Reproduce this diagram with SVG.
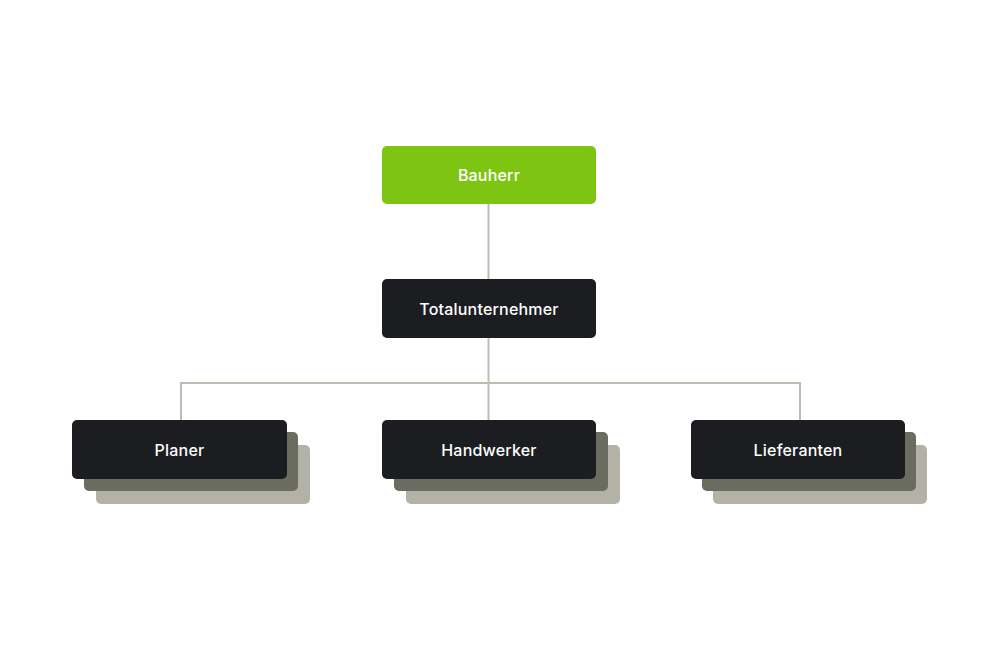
<svg xmlns="http://www.w3.org/2000/svg" width="1000" height="650" viewBox="0 0 1000 650">
<style>
.box{fill:#1c1d20}
.s1{fill:#6b6c60}
.s2{fill:#b4b2a7}
.green{fill:#7dc512}
.lbl{font-family:Inter,"Noto Sans",sans-serif;font-weight:500;font-size:16px;letter-spacing:0.2px;fill:#ffffff;text-anchor:middle;dominant-baseline:central}
.conn{stroke:#bfbcb2;stroke-width:2;fill:none}
</style>
<rect width="1000" height="650" fill="#ffffff"/>
<g id="connectors">
<path class="conn" d="M488.5 204V279"/>
<path class="conn" d="M488.5 338V420"/>
<path class="conn" d="M181 420V383H800V420"/>
</g>
<g id="bauherr">
<rect class="green" x="382" y="146" width="214" height="58" rx="5"/>
<text class="lbl" x="489" y="175">Bauherr</text>
</g>
<g id="totalunternehmer">
<rect class="box" x="382" y="279" width="214" height="59" rx="5"/>
<text class="lbl" x="489" y="308.5">Totalunternehmer</text>
</g>
<g id="planer">
<rect class="s2" x="96" y="445" width="214" height="59" rx="5"/>
<rect class="s1" x="84" y="432" width="214" height="59" rx="5"/>
<rect class="box" x="72" y="420" width="215" height="59" rx="5"/>
<text class="lbl" x="179.5" y="449.5">Planer</text>
</g>
<g id="handwerker">
<rect class="s2" x="406" y="445" width="214" height="59" rx="5"/>
<rect class="s1" x="394" y="432" width="214" height="59" rx="5"/>
<rect class="box" x="382" y="420" width="214" height="59" rx="5"/>
<text class="lbl" x="489" y="449.5">Handwerker</text>
</g>
<g id="lieferanten">
<rect class="s2" x="713" y="445" width="214" height="59" rx="5"/>
<rect class="s1" x="702" y="432" width="214" height="59" rx="5"/>
<rect class="box" x="691" y="420" width="214" height="59" rx="5"/>
<text class="lbl" x="798" y="449.5">Lieferanten</text>
</g>
</svg>
